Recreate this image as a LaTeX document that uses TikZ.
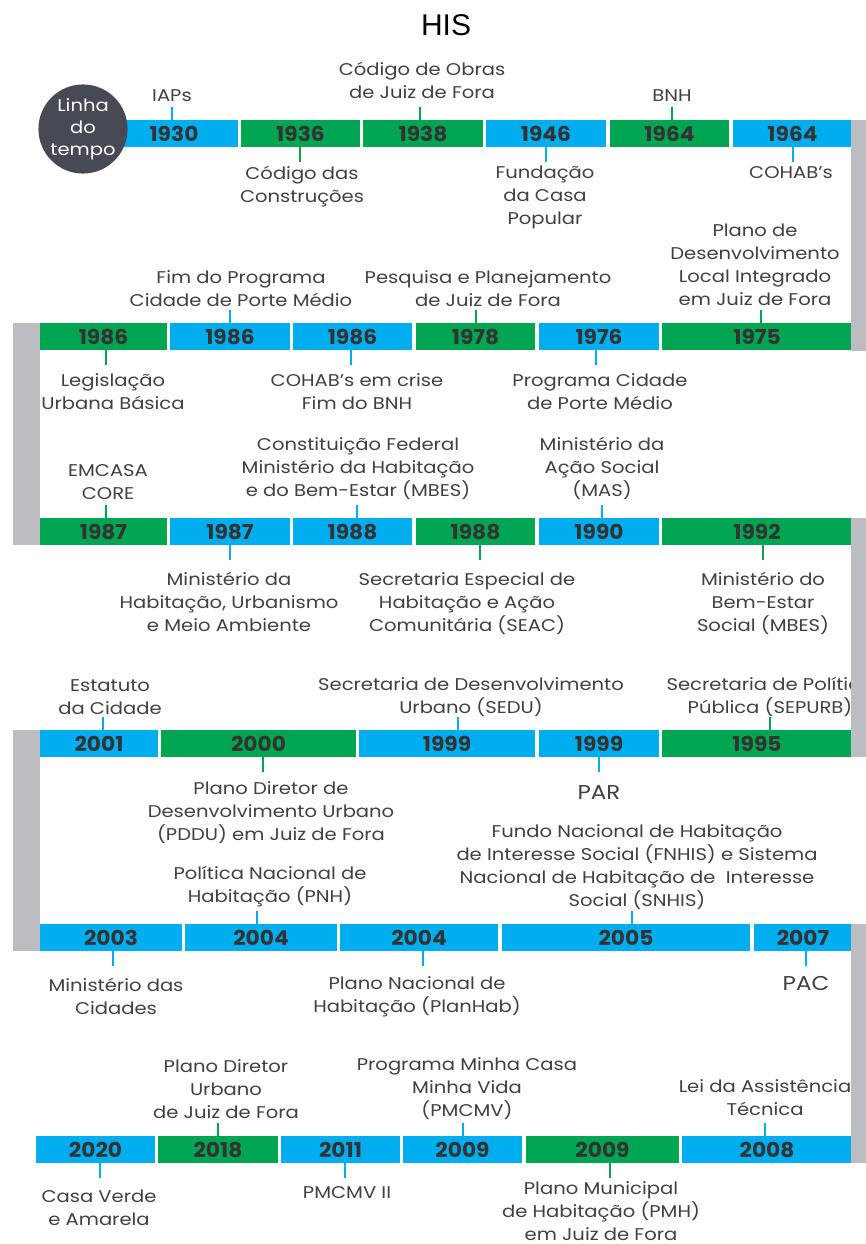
\documentclass[tikz,border=0pt]{standalone}
\usepackage{fontspec}
\setmainfont{Poppins}
\newfontfamily\lblfont[FakeStretch=1.15]{Poppins}
\newfontfamily\yearfont[FakeStretch=1.06]{Poppins}
\newfontfamily\titlefont{Liberation Sans}
\definecolor{tlblue}{HTML}{00AEEF}
\definecolor{tlgreen}{HTML}{00A551}
\definecolor{tlgrey}{HTML}{BCBDC0}
\definecolor{tlcircle}{HTML}{474A55}
\definecolor{tltext}{HTML}{404040}
\definecolor{tlyear}{HTML}{333333}
\newcommand\tlseg[6]{\node[segbox, fill=#5, minimum width={#3-#2}] (#1) at ({(#2+#3)/2},{#4+13.5}) {#6};}
% name, x, first-line centre y, number of lines, text (base anchor = last line)
\newcommand\tllbl[5]{\node[lbl, anchor=base] (#1) at (#2,{#3+23*(#4-1)+6}) {#5};}
\newcommand\tlup[3]{\draw[tickline, #3] (#1.north -| #2,0) -- ++(0,-13);}
\newcommand\tldown[3]{\draw[tickline, #3] (#1.south -| #2,0) -- ++(0,15);}
\begin{document}
\begin{tikzpicture}[x=1pt,y=-1pt,
  segbox/.style={rectangle, inner sep=0, minimum height=27, text=tlyear, font=\yearfont\bfseries\fontsize{20.5}{22}\selectfont},
  lbl/.style={align=center, inner sep=0, text=tltext, font=\lblfont\fontsize{17}{23}\selectfont},
  biglbl/.style={lbl, font=\lblfont\fontsize{20}{23}\selectfont},
  tickline/.style={line width=2pt},
  greybar/.style={fill=tlgrey, draw=none}]
\useasboundingbox (0,0) rectangle (866,1244);
\node[inner sep=0, font=\titlefont\fontsize{30}{32}\selectfont] (title) at (446,25) {HIS};
% Row 1
\tlseg{a1}{110}{238}{120}{tlblue}{1930}
\tlseg{a2}{241}{360}{120}{tlgreen}{1936}
\tlseg{a3}{363}{483}{120}{tlgreen}{1938}
\tlseg{a4}{486}{606}{120}{tlblue}{1946}
\tlseg{a5}{610}{729}{120}{tlgreen}{1964}
\tlseg{a6}{733}{852}{120}{tlblue}{1964}
\tlup{a1}{172}{tlblue}
\tldown{a2}{300}{tlgreen}
\tlup{a3}{420}{tlgreen}
\tldown{a4}{546}{tlblue}
\tlup{a5}{672}{tlgreen}
\tldown{a6}{793}{tlblue}
\tllbl{la1}{172}{96}{1}{IAPs}
\tllbl{la2}{302}{173}{2}{Código das\\Construções}
\tllbl{la3}{422}{70}{2}{Código de Obras\\de Juiz de Fora}
\tllbl{la4}{545}{172}{3}{Fundação\\da Casa\\Popular}
\tllbl{la5}{672}{96}{1}{BNH}
\tllbl{la6}{791}{172}{1}{COHAB’s}
% Row 2
\tlseg{b1}{40}{167}{323}{tlgreen}{1986}
\tlseg{b2}{170}{290}{323}{tlblue}{1986}
\tlseg{b3}{293}{412}{323}{tlblue}{1986}
\tlseg{b4}{416}{535}{323}{tlgreen}{1978}
\tlseg{b5}{539}{659}{323}{tlblue}{1976}
\tlseg{b6}{662}{852}{323}{tlgreen}{1975}
\tldown{b1}{106}{tlgreen}
\tlup{b2}{230}{tlblue}
\tldown{b3}{351}{tlblue}
\tlup{b4}{476}{tlgreen}
\tldown{b5}{596}{tlblue}
\tlup{b6}{761}{tlgreen}
\tllbl{lb1}{113}{380}{2}{Legislação\\Urbana Básica}
\tllbl{lb2}{241}{277}{2}{Fim do Programa\\Cidade de Porte Médio}
\tllbl{lb3}{357}{380}{2}{COHAB’s em crise\\Fim do BNH}
\tllbl{lb4}{488}{277}{2}{Pesquisa e Planejamento\\de Juiz de Fora}
\tllbl{lb5}{600}{380}{2}{Programa Cidade\\de Porte Médio}
\tllbl{lb6}{755}{230}{4}{Plano de\\Desenvolvimento\\Local Integrado\\em Juiz de Fora}
% Row 3
\tlseg{c1}{40}{167}{518}{tlgreen}{1987}
\tlseg{c2}{170}{290}{518}{tlblue}{1987}
\tlseg{c3}{293}{412}{518}{tlblue}{1988}
\tlseg{c4}{416}{535}{518}{tlgreen}{1988}
\tlseg{c5}{539}{659}{518}{tlblue}{1990}
\tlseg{c6}{662}{852}{518}{tlgreen}{1992}
\tlup{c1}{106}{tlgreen}
\tldown{c2}{230}{tlblue}
\tlup{c3}{357}{tlblue}
\tldown{c4}{480}{tlgreen}
\tlup{c5}{602}{tlblue}
\tldown{c6}{763}{tlgreen}
\tllbl{lc1}{108}{470}{2}{EMCASA\\CORE}
\tllbl{lc2}{229}{579}{3}{Ministério da\\Habitação, Urbanismo\\e Meio Ambiente}
\tllbl{lc3}{358}{444}{3}{Constituição Federal\\Ministério da Habitação\\e do Bem-Estar (MBES)}
\tllbl{lc4}{467}{579}{3}{Secretaria Especial de\\Habitação e Ação\\Comunitária (SEAC)}
\tllbl{lc5}{602}{444}{3}{Ministério da\\Ação Social\\(MAS)}
\tllbl{lc6}{763}{579}{3}{Ministério do\\Bem-Estar\\Social (MBES)}
% Row 4
\tlseg{d1}{40}{158}{730}{tlblue}{2001}
\tlseg{d2}{161}{356}{730}{tlgreen}{2000}
\tlseg{d3}{359}{535}{730}{tlblue}{1999}
\tlseg{d4}{539}{659}{730}{tlblue}{1999}
\tlseg{d5}{662}{852}{730}{tlgreen}{1995}
\tlup{d1}{103}{tlblue}
\tldown{d2}{263}{tlgreen}
\tlup{d3}{458}{tlblue}
\tldown{d4}{599}{tlblue}
\tlup{d5}{770}{tlgreen}
\tllbl{ld1}{110}{685}{2}{Estatuto\\da Cidade}
\tllbl{ld2}{271}{788}{3}{Plano Diretor de\\Desenvolvimento Urbano\\(PDDU) em Juiz de Fora}
\tllbl{ld3}{471}{684}{2}{Secretaria de Desenvolvimento\\Urbano (SEDU)}
\node[biglbl, anchor=base] (ld4) at (599,799) {PAR};
\tllbl{ld5}{770}{684}{2}{Secretaria de Política\\Pública (SEPURB)}
% Row 5
\tlseg{e1}{40}{182}{924}{tlblue}{2003}
\tlseg{e2}{185}{337}{924}{tlblue}{2004}
\tlseg{e3}{340}{498}{924}{tlblue}{2004}
\tlseg{e4}{502}{750}{924}{tlblue}{2005}
\tlseg{e5}{754}{852}{924}{tlblue}{2007}
\tldown{e1}{113}{tlblue}
\tlup{e2}{257}{tlblue}
\tldown{e3}{423}{tlblue}
\tlup{e4}{632}{tlblue}
\tldown{e5}{806}{tlblue}
\tllbl{le1}{116}{985}{2}{Ministério das\\Cidades}
\tllbl{le2}{270}{873}{2}{Política Nacional de\\Habitação (PNH)}
\tllbl{le3}{417}{983}{2}{Plano Nacional de\\Habitação (PlanHab)}
\tllbl{le4}{637}{831}{4}{Fundo Nacional de Habitação\\de Interesse Social (FNHIS) e Sistema\\Nacional de Habitação de\ \ Interesse\\Social (SNHIS)}
\node[biglbl, anchor=base] (le5) at (806,990) {PAC};
% Row 6
\tlseg{f1}{36}{155}{1136}{tlblue}{2020}
\tlseg{f2}{158}{278}{1136}{tlgreen}{2018}
\tlseg{f3}{281}{400}{1136}{tlblue}{2011}
\tlseg{f4}{403}{522}{1136}{tlblue}{2009}
\tlseg{f5}{526}{679}{1136}{tlgreen}{2009}
\tlseg{f6}{682}{852}{1136}{tlblue}{2008}
\tldown{f1}{100}{tlblue}
\tlup{f2}{218}{tlgreen}
\tldown{f3}{345}{tlblue}
\tlup{f4}{463}{tlblue}
\tldown{f5}{610}{tlgreen}
\tlup{f6}{765}{tlblue}
\tllbl{lf1}{99}{1196}{2}{Casa Verde\\e Amarela}
\tllbl{lf2}{226}{1066}{3}{Plano Diretor\\Urbano\\de Juiz de Fora}
\tllbl{lf3}{347}{1192}{1}{PMCMV II}
\tllbl{lf4}{467}{1064}{3}{Programa Minha Casa\\Minha Vida\\(PMCMV)}
\tllbl{lf5}{601}{1188}{3}{Plano Municipal\\de Habitação (PMH)\\em Juiz de Fora}
\tllbl{lf6}{765}{1086}{2}{Lei da Assistência\\Técnica}
% grey connectors between rows
\fill[greybar] (851,120) rectangle (866,351);
\fill[greybar] (13,323) rectangle (40,545);
\fill[greybar] (851,518) rectangle (866,757);
\fill[greybar] (13,730) rectangle (40,951);
\fill[greybar] (851,924) rectangle (866,1163);
% start circle
\node[circle, fill=tlcircle, minimum size=84, inner sep=0, text=white, align=center, font=\lblfont\fontsize{17}{22}\selectfont] (start) at (83,129) {Linha\\do\\tempo};
\end{tikzpicture}
\end{document}
